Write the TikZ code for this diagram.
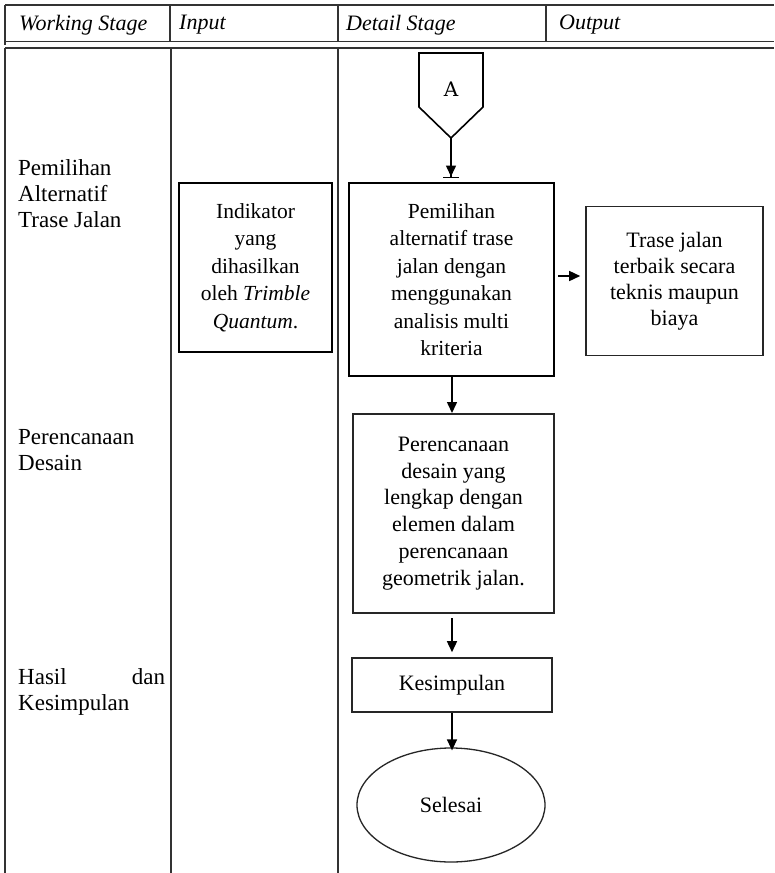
\documentclass[tikz,border=0pt]{standalone}
\usepackage{fontspec}
\setmainfont{Liberation Serif}
\newfontfamily\slabfont{DejaVu Serif}
\usetikzlibrary{arrows.meta,shapes.geometric}
\tikzset{
  frame/.style={line width=1.5pt, draw=black!80},
  boxthick/.style={draw=black, line width=2.6pt, align=center, inner sep=0pt},
  boxthin/.style={draw=black!85, line width=1.6pt, align=center, inner sep=0pt},
  txt/.style={font=\fontsize{21.5}{27.5}\selectfont},
  lbl/.style={font=\fontsize{23}{26}\selectfont, align=left, inner sep=0pt, anchor=west},
  hdr/.style={font=\fontsize{22}{26}\selectfont\itshape, inner sep=0pt, anchor=west},
  arr/.style={line width=1.5pt, -{Triangle[length=11pt,width=10pt]}},
}
\begin{document}
\begin{tikzpicture}[x=1pt,y=-1pt]
\useasboundingbox[fill=white] (0,0) rectangle (774,873);
% header table
\draw[frame] (5,5) -- (774,5);
\draw[frame] (5,41.5) -- (774,41.5);
\draw[frame] (5,5) -- (5,45);
\draw[frame] (170,5) -- (170,41.5);
\draw[frame] (338,5) -- (338,41.5);
\draw[frame] (546,5) -- (546,41.5);
\draw[frame] (5,48) -- (774,48);
\draw[frame] (5,48) -- (5,873);
\draw[frame] (171,48) -- (171,873);
\draw[frame] (338,48) -- (338,873);
\node[hdr] (h1) at (19,25) {Working Stage};
\node[hdr] (h2) at (179,25) {Input};
\node[hdr] (h3) at (346,25) {Detail Stage};
\node[hdr] (h4) at (559,25) {Output};
% left labels
\node[lbl] (l1) at (18,194) {Pemilihan\\Alternatif\\Trase Jalan};
\node[lbl] (l2) at (18,450) {Perencanaan\\Desain};
\node[lbl] (l3) at (18,692) {\makebox[147pt][l]{Hasil\hfill dan}\\Kesimpulan};
% off-page connector A
\draw[line width=1.6pt] (419,53) -- (483,53) -- (483,107) -- (451,138) -- (419,107) -- cycle;
\node[font=\fontsize{20}{24}\selectfont\slabfont] (A) at (451,89) {A};
\coordinate (Atip) at (451,138);
\coordinate (Aend) at (451,178);
% boxes
\node[boxthick, txt, minimum width=153pt, minimum height=169pt] (inp) at (255.5,267.5)
  {Indikator\\yang\\dihasilkan\\oleh \textit{Trimble}\\\textit{Quantum}.};
\node[boxthick, txt, minimum width=205pt, minimum height=193pt] (main) at (451.5,279.5)
  {Pemilihan\\alternatif trase\\jalan dengan\\menggunakan\\analisis multi\\kriteria};
\node[boxthin, font=\fontsize{22}{26}\selectfont, minimum width=177pt, minimum height=149pt] (out) at (674.5,281)
  {Trase jalan\\terbaik secara\\teknis maupun\\biaya};
\node[boxthin, font=\fontsize{22}{26.8}\selectfont, minimum width=201pt, minimum height=199pt] (plan) at (453.5,513.5)
  {Perencanaan\\desain yang\\lengkap dengan\\elemen dalam\\perencanaan\\geometrik jalan.};
\node[boxthin, font=\fontsize{22}{26}\selectfont, minimum width=200pt, minimum height=54pt] (kes) at (452,685)
  {Kesimpulan};
\node[draw=black!85, line width=1.3pt, ellipse, inner sep=0pt, minimum width=188pt, minimum height=114pt,
  font=\fontsize{22}{26}\selectfont] (end) at (451,805) {Selesai};
% connectors
\draw[line width=1.5pt, -{Triangle[length=11pt,width=10pt] Bar[width=16pt,line width=1.5pt]}] (Atip) -- (Aend);
\draw[arr, shorten <=3pt, shorten >=5pt] (main.east |- 0,276) -- (out.west |- 0,276);
\draw[arr] (452,376) -- (452,413);
\draw[arr, shorten <=5pt, shorten >=5pt] (452,613) -- (kes.north -| 452,0);
\draw[arr] (kes.south -| 452,0) -- ([yshift=-3pt]end.north -| 452,0);
\end{tikzpicture}
\end{document}
